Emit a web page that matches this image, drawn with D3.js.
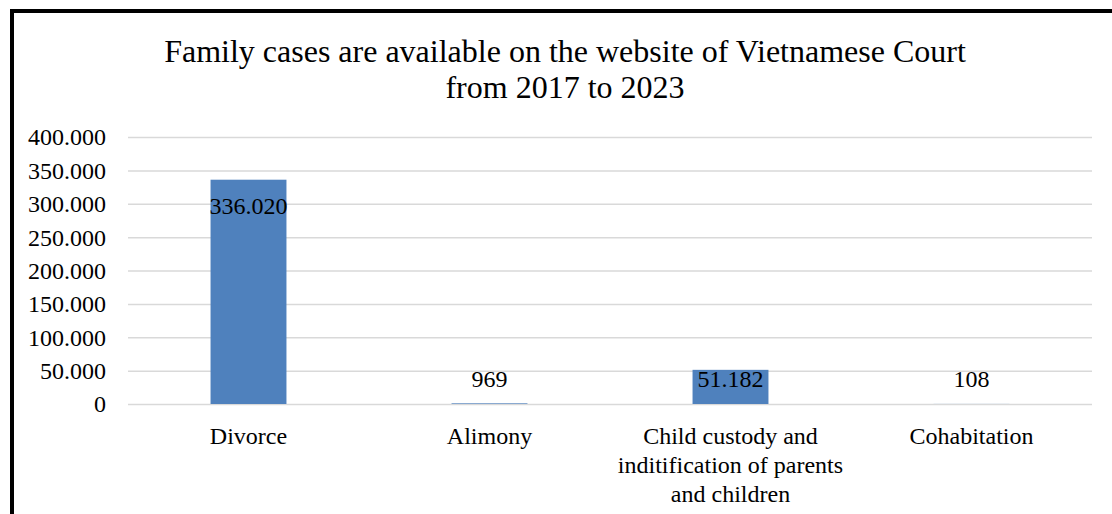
<!DOCTYPE html>
<meta charset="utf-8">
<style>

body {
	margin: 0;
	background: #fff;
}

text {
	font-family: "Liberation Serif", "Times New Roman", serif;
	fill: #000;
}

</style>
<svg width="1112" height="514"></svg>
<script src="https://d3js.org/d3.v7.min.js"></script>
<script>
	var categories = ["Divorce", "Alimony", "Child custody and|inditification of parents|and children", "Cohabitation"];
	var cases = [336020, 969, 51182, 108];
	var yTicks = [0, 50000, 100000, 150000, 200000, 250000, 300000, 350000, 400000];
	var titleLines = ["Family cases are available on the website of Vietnamese Court", "from 2017 to 2023"];

	var svg = d3.select("svg");
	var plotLeft = 128;
	var plotRight = 1092;
	var plotTop = 137;
	var plotBottom = 404;
	var fontSize = "24px";
	var barColor = "#4f81bd";

	var vn = d3.formatLocale({decimal: ",", thousands: ".", grouping: [3], currency: ["", ""]});
	var fmt = vn.format(",d");

	// outer frame, runs off the right and bottom edges like the original
	svg.append("rect")
		.attr("x", 12)
		.attr("y", 11)
		.attr("width", 1106)
		.attr("height", 520)
		.style("fill", "none")
		.style("stroke", "#000")
		.style("stroke-width", 4);

	svg.selectAll(".title")
		.data(titleLines)
		.enter().append("text")
		.attr("class", "title")
		.attr("x", 565)
		.attr("y", function(d, i) { return 62 + i * 36; })
		.style("text-anchor", "middle")
		.style("font-size", "32px")
		.text(function(d) { return d; });

	var x = d3.scaleBand()
		.domain(categories)
		.range([plotLeft, plotRight])
		.paddingInner(0.685)
		.paddingOuter(0.3425);

	var y = d3.scaleLinear()
		.domain([0, 400000])
		.range([plotBottom, plotTop]);

	var yAxis = svg.append("g")
		.attr("transform", "translate(" + plotLeft + ",0)")
		.call(d3.axisLeft(y).tickValues(yTicks).tickFormat(fmt).tickSize(-(plotRight - plotLeft)).tickPadding(22));
	yAxis.select(".domain").remove();
	yAxis.selectAll("line")
		.style("stroke", "#d9d9d9")
		.style("stroke-width", 1.5);
	yAxis.selectAll("text")
		.attr("dy", "0.33em")
		.style("font-size", fontSize)
		.style("font-family", "Liberation Serif");

	svg.selectAll(".bar")
		.data(cases)
		.enter().append("rect")
		.attr("class", "bar")
		.attr("x", function(d, i) { return x(categories[i]); })
		.attr("y", function(d) { return y(d); })
		.attr("width", x.bandwidth())
		.attr("height", function(d) { return y(0) - y(d); })
		.style("fill", barColor);

	svg.selectAll(".valueLabel")
		.data(cases)
		.enter().append("text")
		.attr("class", "valueLabel")
		.attr("x", function(d, i) { return x(categories[i]) + x.bandwidth() / 2; })
		.attr("y", function(d) { return Math.min(y(d) + 34, y(0) - 17); })
		.style("text-anchor", "middle")
		.style("font-size", fontSize)
		.text(function(d) { return fmt(d); });

	var catLabels = svg.selectAll(".catLabel")
		.data(categories)
		.enter().append("text")
		.attr("class", "catLabel")
		.attr("x", function(d) { return x(d) + x.bandwidth() / 2; })
		.attr("y", plotBottom + 40)
		.style("text-anchor", "middle")
		.style("font-size", fontSize);

	catLabels.selectAll("tspan")
		.data(function(d) { return d.split("|"); })
		.enter().append("tspan")
		.attr("x", function() { return d3.select(this.parentNode).attr("x"); })
		.attr("dy", function(d, i) { return i === 0 ? 0 : 29; })
		.text(function(d) { return d; });
</script>
